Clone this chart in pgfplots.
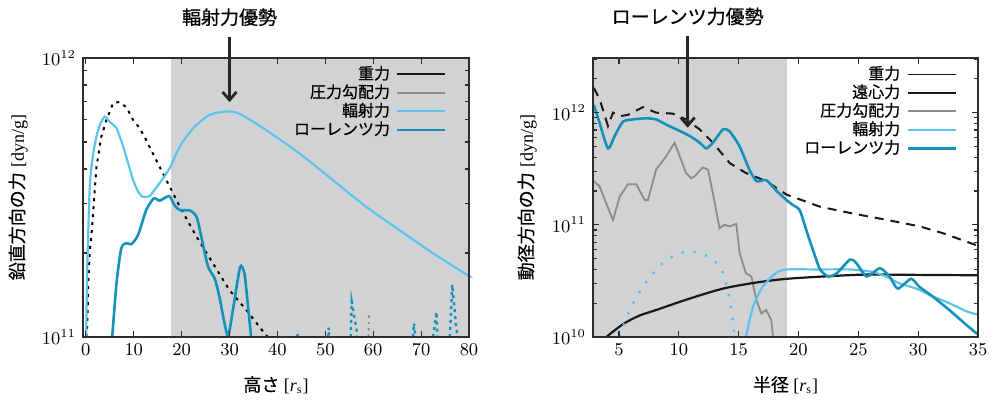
\documentclass[border=0pt]{standalone}
\usepackage{fontspec}
\setmainfont{Liberation Serif}
\newfontfamily\jp[FakeBold=0.6]{Noto Sans CJK JP}
\usepackage{pgfplots}
\pgfplotsset{compat=1.18}
\usetikzlibrary{arrows.meta}
\definecolor{bgshade}{RGB}{209,210,212}
\definecolor{radc}{RGB}{92,196,236}
\definecolor{lorc}{RGB}{22,146,186}
\definecolor{presc}{RGB}{140,140,140}
\definecolor{framec}{RGB}{45,45,45}
\pgfplotsset{
  every axis/.append style={
    scale only axis, height=139.5pt,
    axis on top, clip=false,
    tick align=inside,
    axis line style={framec, line width=0.7pt},
    major tick length=3pt, minor tick length=1.8pt,
    tick label style={font=\fontsize{9}{10}\selectfont},
    label style={font=\fontsize{9}{10}\selectfont},
    xlabel style={at={(axis description cs:0.5,-0.172)}, anchor=center},
  },
  every tick/.append style={framec, line width=0.6pt},
  every axis legend/.append style={draw=none, fill=none, font=\jp\fontsize{8}{9}\selectfont,
      anchor=north east, inner sep=0pt,
      nodes={inner sep=0pt, text height=7pt, text depth=2pt},
      row sep=0.25pt, column sep=3pt},
}
\begin{document}
\begin{tikzpicture}
\path[use as bounding box] (-41.5pt,-33pt) rectangle (455.5pt,168.5pt);
% ---------------- left panel ----------------
\begin{axis}[width=193pt, ymode=log,
  xmin=-0.6, xmax=80, ymin=1e11, ymax=1e12,
  xtick={0,10,...,80},
  ytick={1e11,1e12},
  minor ytick={2e11,3e11,4e11,5e11,6e11,7e11,8e11,9e11},
  xlabel={{\jp 高さ} [\textit{r}\textsubscript{s}]},
  ylabel={{\jp 鉛直方向の力} [dyn/g]},
  ylabel style={at={(axis description cs:-0.168,0.5)}, anchor=center},
  legend cell align=right, legend plot pos=right,
  legend image code/.code={\draw[#1] (0pt,0pt) -- (24pt,0pt);},
  legend style={at={(rel axis cs:0.943,0.975)}},
]
\addlegendimage{black!90, line width=0.9pt}
\addlegendentry{重力}
\addlegendimage{presc, line width=0.9pt}
\addlegendentry{圧力勾配力}
\addlegendimage{radc, line width=1.1pt}
\addlegendentry{輻射力}
\addlegendimage{lorc, line width=1.3pt}
\addlegendentry{ローレンツ力}
\fill[bgshade] (axis cs:17.8,1e11) rectangle (axis cs:80,1e12);
% gravity (dotted)
\addplot[black, line width=1pt, dash pattern=on 1.5pt off 2.5pt, forget plot] coordinates {
(0.1,1.0e11)(0.3,1.1e11)(0.5,1.55e11)(0.83,2.05e11)(1.2,2.35e11)(2.2,4.05e11)(3.2,5.2e11)(4.3,6.0e11)(5.7,6.9e11)(7.0,6.95e11)(8.5,6.65e11)(9.85,6.0e11)(11.25,5.6e11)(12.6,5.08e11)(14.0,4.55e11)(15.4,4.07e11)(17.5,3.46e11)(19.6,2.93e11)(23.1,2.29e11)(26.5,1.84e11)(30,1.47e11)(33.5,1.25e11)(37.3,1.03e11)(38,1.0e11)};
% radiation force
\addplot[radc, line width=1.1pt, smooth, tension=0.4, forget plot] coordinates {
(0.05,1.0e11)(0.3,1.8e11)(0.83,3.5e11)(1.5,4.5e11)(2.2,5.22e11)(3.0,5.8e11)(3.96,6.17e11)(4.6,6.0e11)(5.5,5.8e11)(6.4,5.6e11)(7.8,4.81e11)(9.85,3.66e11)(11.0,3.3e11)(11.9,3.18e11)(13.3,3.2e11)(15.4,3.56e11)(17.5,4.03e11)(19.6,4.81e11)(22.4,5.6e11)(25.8,6.25e11)(29.3,6.43e11)(32.1,6.31e11)(37.6,5.52e11)(44.6,4.55e11)(51.5,3.66e11)(58.5,2.93e11)(65.4,2.42e11)(72.4,2.0e11)(79.6,1.67e11)(80,1.66e11)};
% Lorentz force
\addplot[lorc, line width=1.3pt, smooth, tension=0.4, forget plot] coordinates {
(5.5,1.0e11)(6.4,1.56e11)(7.4,2.08e11)(8.5,2.17e11)(9.5,2.15e11)(10.9,2.32e11)(12.6,2.85e11)(14.2,3.14e11)(15.4,3.08e11)(17.4,3.2e11)(18.5,2.97e11)(19.6,2.85e11)(21.7,2.84e11)(23.1,2.7e11)(24.1,2.29e11)(25.5,1.79e11)(26.9,1.62e11)(27.9,1.39e11)(29.6,1.01e11)(30.7,1.25e11)(32.2,1.78e11)(33.1,1.69e11)(33.8,1.32e11)(34.5,1.0e11)};
% small negative fragments
\addplot[lorc, line width=1.2pt, dash pattern=on 1.5pt off 2pt, forget plot] coordinates {(44.1,1.0e11)(44.3,1.03e11)};
\addplot[lorc, line width=1.2pt, dash pattern=on 1.5pt off 2pt, forget plot] coordinates {(50.6,1.0e11)(50.7,1.08e11)(50.8,1.02e11)};
\addplot[lorc, line width=1.2pt, dash pattern=on 1.5pt off 2pt, forget plot] coordinates {(55.3,1.0e11)(55.5,1.34e11)(56.5,1.07e11)(56.6,1.0e11)};
\addplot[presc, line width=0.9pt, dash pattern=on 1.2pt off 2pt, forget plot] coordinates {(59.0,1.0e11)(59.1,1.2e11)};
\addplot[lorc, line width=1.2pt, dash pattern=on 1.5pt off 2pt, forget plot] coordinates {(68.3,1.0e11)(68.5,1.12e11)(68.8,1.0e11)};
\addplot[lorc, line width=1.2pt, dash pattern=on 1.5pt off 2pt, forget plot] coordinates {(72.5,1.0e11)(73.2,1.23e11)(73.4,1.0e11)};
\addplot[lorc, line width=1.2pt, dash pattern=on 1.5pt off 2pt, forget plot] coordinates {(76.0,1.0e11)(76.5,1.54e11)(77.3,1.1e11)(77.6,1.0e11)};
\node[font=\jp\fontsize{9.5}{10}\selectfont] at (axis cs:30,1.40e12) {輻射力優勢};
\draw[black!85, line width=1.4pt, -{Straight Barb[length=4pt,width=7pt]}] (axis cs:30,1.19e12) -- (axis cs:30,6.95e11);
\end{axis}
% ---------------- right panel ----------------
\begin{axis}[at={(255pt,0pt)}, width=192.5pt, ymode=log,
  xmin=2.83, xmax=35, ymin=1e10, ymax=3.07e12,
  xtick={5,10,...,35},
  ytick={1e10,1e11,1e12},
  minor ytick={2e10,3e10,4e10,5e10,6e10,7e10,8e10,9e10,2e11,3e11,4e11,5e11,6e11,7e11,8e11,9e11,2e12,3e12},
  xlabel={{\jp 半径} [\textit{r}\textsubscript{s}]},
  ylabel={{\jp 動径方向の力} [dyn/g]},
  ylabel style={at={(axis description cs:-0.171,0.5)}, anchor=center},
  legend cell align=right, legend plot pos=right,
  legend image code/.code={\draw[#1] (0pt,0pt) -- (24pt,0pt);},
  legend style={at={(rel axis cs:0.946,0.975)}},
]
\addlegendimage{black!90, line width=0.7pt}
\addlegendentry{重力}
\addlegendimage{black!90, line width=1.1pt}
\addlegendentry{遠心力}
\addlegendimage{presc, line width=0.9pt}
\addlegendentry{圧力勾配力}
\addlegendimage{radc, line width=1.1pt}
\addlegendentry{輻射力}
\addlegendimage{lorc, line width=1.3pt}
\addlegendentry{ローレンツ力}
\fill[bgshade] (axis cs:2.83,1e10) rectangle (axis cs:19.05,3.07e12);
% gray: pressure gradient
\addplot[presc, line width=0.9pt, forget plot] coordinates {
(2.9,2.45e11)(3.38,2.2e11)(3.94,1.55e11)(4.5,1.1e11)(5.06,1.78e11)(5.75,2.3e11)(6.45,2.3e11)(7.14,1.66e11)(7.42,1.66e11)(8.1,3.1e11)(8.96,4.1e11)(9.65,5.4e11)(10.07,4.1e11)(10.6,2.9e11)(11.04,2.6e11)(11.3,2.7e11)(12.0,3.25e11)(12.44,3.1e11)(12.85,1.9e11)(13.4,9.3e10)(13.8,1.0e11)(14.25,9.7e10)(14.8,1.02e11)(15.08,5.6e10)(15.6,3.7e10)(16.06,3.47e10)(16.48,2.14e10)(16.9,1.62e10)(17.3,1.74e10)(17.73,1.41e10)(17.87,1.0e10)};
% black solid
\addplot[black!90, line width=1.1pt, smooth, forget plot] coordinates {
(3.94,1.0e10)(5.33,1.3e10)(6.7,1.55e10)(8.1,1.74e10)(10.9,2.2e10)(13.7,2.7e10)(16.4,3.05e10)(19,3.3e10)(22.9,3.5e10)(25.7,3.6e10)(29.85,3.58e10)(35,3.55e10)};
% light blue dotted arc (negative radiation)
\addplot[radc, line width=1.3pt, smooth, dash pattern=on 1.2pt off 4.8pt, forget plot] coordinates {
(5.06,1.0e10)(5.9,1.74e10)(7.0,2.8e10)(8.4,4.3e10)(9.5,5.25e10)(10.6,5.75e10)(11.74,5.6e10)(12.85,4.9e10)(13.7,3.7e10)(14.25,2.14e10)(14.67,1.0e10)};
% light blue solid
\addplot[radc, line width=1.1pt, smooth, tension=0.4, forget plot] coordinates {
(15.6,1.0e10)(16.2,1.86e10)(17.0,2.8e10)(18.1,3.7e10)(19,4.0e10)(21.5,4.0e10)(24.3,4.0e10)(26.2,3.8e10)(27.3,3.47e10)(28.45,3.0e10)(29.85,2.7e10)(31.2,2.3e10)(32.6,2.0e10)(34.0,1.7e10)(35,1.58e10)};
% black dotted
\addplot[black!90, line width=1pt, dash pattern=on 4.5pt off 3.5pt, forget plot] coordinates {
(2.9,1.66e12)(3.38,1.32e12)(4.08,7.6e11)(4.5,1.0e12)(5.06,9.3e11)(5.75,9.55e11)(7.0,1.12e12)(8.1,1.0e12)(9.5,9.8e11)(10.6,8.7e11)(11.74,7.1e11)(12.85,5.4e11)(14.25,3.55e11)(15.6,2.9e11)(17.3,2.45e11)(19,1.86e11)(21.8,1.45e11)(24.55,1.26e11)(27.3,1.11e11)(30.1,9.7e10)(32.1,8.4e10)(35,6.5e10)};
% Lorentz force
\addplot[lorc, line width=1.3pt, smooth, tension=0.4, forget plot] coordinates {
(2.9,1.17e12)(3.38,8.1e11)(4.08,4.8e11)(4.64,6.2e11)(5.33,8.3e11)(6.17,8.7e11)(7.28,8.9e11)(8.1,8.7e11)(8.96,7.8e11)(9.8,7.1e11)(10.9,6.2e11)(11.74,5.4e11)(12.3,4.8e11)(12.85,5.4e11)(13.7,7.1e11)(14.25,6.8e11)(15.08,5.0e11)(15.9,3.1e11)(16.5,2.45e11)(17.3,2.5e11)(18.1,2.04e11)(19,1.66e11)(19.5,1.51e11)(20.1,1.35e11)(20.65,9.0e10)(21.2,6.0e10)(21.8,4.0e10)(22.5,3.47e10)(23.2,3.7e10)(24.3,4.9e10)(24.8,4.6e10)(25.7,3.47e10)(26.8,4.1e10)(27.6,3.47e10)(28.3,2.7e10)(29.4,3.3e10)(30.1,2.8e10)(31.2,2.3e10)(32.6,1.74e10)(34.0,1.29e10)(35,1.05e10)};
\node[font=\jp\fontsize{9.5}{10}\selectfont] at (axis cs:10.74,7.2e12) {ローレンツ力優勢};
\draw[black!85, line width=1.4pt, -{Straight Barb[length=4pt,width=7pt]}] (axis cs:10.74,4.8e12) -- (axis cs:10.74,7.35e11);
\end{axis}
\end{tikzpicture}
\end{document}
